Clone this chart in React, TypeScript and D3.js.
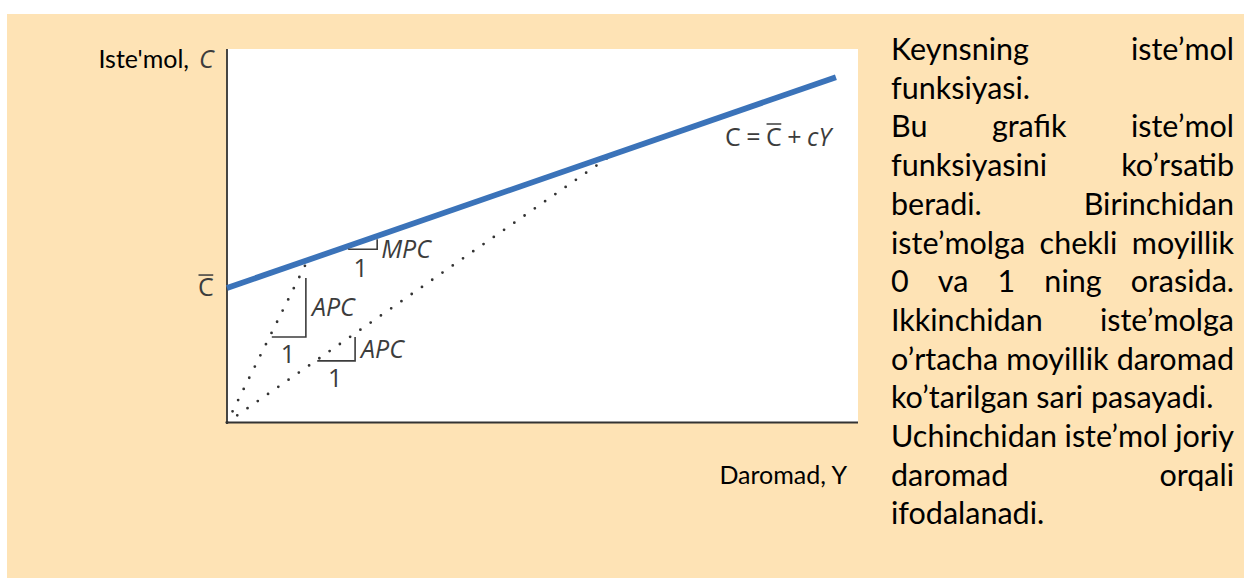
import React from 'react';
import * as d3 from 'd3';

// ---------- data ----------
const AUTONOMOUS_C = 36;        // C̄ (intercept)
const MPC_VALUE = 0.585;        // slope c
const INCOME_MAX = 100;
const CONS_MAX = 100;
const LINE_END_INCOME = 96.5;
const RAY_INCOMES = [12.8, 61];  // dotted rays from origin to the consumption line
const APC_TRIANGLES = [
  { y0: 7.1, run: 5.4, c0: 22.9, rise: 15.8 },
  { y0: 14.3, run: 6.0, c0: 16.5, rise: 6.4 },
];
const MPC_TRIANGLE = { y0: 19.2, run: 4.6, c0: 46.4 };

const Y_AXIS_LABEL = "Iste'mol,";
const Y_AXIS_SYMBOL = 'C';
const X_AXIS_LABEL = 'Daromad, Y';
const MPC_LABEL = 'MPC';
const APC_LABEL = 'APC';
const UNIT_LABEL = '1';

const PARAGRAPH_LINES = [
  'Keynsning iste’mol',
  'funksiyasi.',
  'Bu grafik iste’mol',
  'funksiyasini ko’rsatib',
  'beradi. Birinchidan',
  'iste’molga chekli moyillik',
  '0 va 1 ning orasida.',
  'Ikkinchidan iste’molga',
  'o’rtacha moyillik daromad',
  'ko’tarilgan sari pasayadi.',
  'Uchinchidan iste’mol joriy',
  'daromad orqali',
  'ifodalanadi.',
];
const PARAGRAPH_JUSTIFY = [true, false, true, true, true, true, true, true, true, false, true, true, false];

// ---------- helpers ----------
let _ctx: CanvasRenderingContext2D | null = null;
function textWidth(s: string, font: string): number {
  if (!_ctx) _ctx = document.createElement('canvas').getContext('2d');
  if (!_ctx) return s.length * 10;
  _ctx.font = font;
  return _ctx.measureText(s).width;
}

const W = 1244;
const H = 578;
const PLOT = { left: 227, right: 858, top: 49, bottom: 422.5 };
const CHART_FONT = "'Open Sans'";
const CHART_SIZE = 25;
const TEXT_FONT = 'Lato';
const PARA_SIZE = 30.5;
const LABEL_SIZE = 25;
const INK = '#3c3c3c';

export default function App() {
  const x = d3.scaleLinear().domain([0, INCOME_MAX]).range([PLOT.left, PLOT.right]);
  const y = d3.scaleLinear().domain([0, CONS_MAX]).range([PLOT.bottom, PLOT.top]);
  const cons = (inc: number) => AUTONOMOUS_C + MPC_VALUE * inc;

  const linePath = d3.line<number>().x((d) => x(d)).y((d) => y(cons(d)))([0, LINE_END_INCOME]) || '';
  const rays = RAY_INCOMES.map((inc) =>
    d3.line<[number, number]>().x((d) => x(d[0])).y((d) => y(d[1]))([[0, 0], [inc, cons(inc)]]) || ''
  );

  // paragraph layout
  const paraFont = `${PARA_SIZE}px ${TEXT_FONT}`;
  const paraLeft = 891;
  const paraRight = 1234;
  const paraTop = 60;
  const paraPitch = 38.7;
  const spaceW = textWidth(' ', paraFont);
  const paraWords = PARAGRAPH_LINES.map((line, i) => {
    const words = line.split(' ');
    const widths = words.map((w) => textWidth(w, paraFont));
    const total = widths.reduce((a, b) => a + b, 0);
    const gap = PARAGRAPH_JUSTIFY[i] && words.length > 1 ? (paraRight - paraLeft - total) / (words.length - 1) : spaceW;
    let cx = paraLeft;
    return words.map((w, j) => {
      const item = { w, x: cx };
      cx += widths[j] + gap;
      return item;
    });
  });

  // equation layout
  const eqFont = `${CHART_SIZE}px ${CHART_FONT}`;
  const eqItFont = `italic ${CHART_SIZE}px ${CHART_FONT}`;
  const eqX = 725;
  const eqY = 146;
  const eqGap = 5.5;
  const eqParts = [
    { t: 'C', it: false, bar: false, gap: eqGap },
    { t: '=', it: false, bar: false, gap: eqGap },
    { t: 'C', it: false, bar: true, gap: eqGap },
    { t: '+', it: false, bar: false, gap: eqGap },
    { t: 'c', it: true, bar: false, gap: 0 },
    { t: 'Y', it: true, bar: false, gap: 0 },
  ];
  let ex = eqX;
  const eqLaid = eqParts.map((p) => {
    const w = textWidth(p.t, p.it ? eqItFont : eqFont);
    const item = { ...p, x: ex, w };
    ex += w + p.gap;
    return item;
  });

  const cW = textWidth('C', eqFont);

  const legStroke = { stroke: INK, strokeWidth: 1.6, fill: 'none' };

  const mpcX0 = x(MPC_TRIANGLE.y0);
  const mpcX1 = x(MPC_TRIANGLE.y0 + MPC_TRIANGLE.run);
  const mpcYb = y(MPC_TRIANGLE.c0);
  const mpcYt = y(MPC_TRIANGLE.c0 + MPC_VALUE * MPC_TRIANGLE.run);

  return (
    <div style={{ position: 'absolute', left: 0, top: 0 }}>
      <svg width={W} height={H} viewBox={`0 0 ${W} ${H}`} style={{ display: 'block' }}>
        <rect x={0} y={0} width={W} height={H} fill="#ffffff" />
        <rect x={7} y={14} width={W - 7} height={H - 14} fill="#FEE3B5" />
        <rect x={PLOT.left} y={PLOT.top} width={PLOT.right - PLOT.left} height={PLOT.bottom - PLOT.top} fill="#ffffff" />

        {/* axes */}
        <line x1={PLOT.left} x2={PLOT.left} y1={PLOT.top} y2={PLOT.bottom} stroke="#333" strokeWidth={1.8} />
        <line x1={PLOT.left - 0.9} x2={PLOT.right} y1={PLOT.bottom} y2={PLOT.bottom} stroke="#333" strokeWidth={1.8} />

        {/* dotted rays */}
        {rays.map((d, i) => (
          <path key={i} d={d} fill="none" stroke="#333" strokeWidth={2.8} strokeLinecap="round" strokeDasharray="0 12.5" />
        ))}

        {/* consumption function */}
        <path d={linePath} fill="none" stroke="#3B73B9" strokeWidth={5.8} />

        {/* MPC triangle */}
        <polyline points={`${mpcX0},${mpcYb} ${mpcX1},${mpcYb} ${mpcX1},${mpcYt}`} {...legStroke} />
        <text x={mpcX1 + 4} y={mpcYb + 9} fontFamily={CHART_FONT} fontStyle="italic" fontSize={CHART_SIZE} fill={INK}>{MPC_LABEL}</text>
        <text x={(mpcX0 + mpcX1) / 2 - 2} y={mpcYb + 28} textAnchor="middle" fontFamily={CHART_FONT} fontSize={CHART_SIZE} fill={INK}>{UNIT_LABEL}</text>

        {/* APC triangles */}
        {APC_TRIANGLES.map((t, i) => {
          const x0 = x(t.y0);
          const x1 = x(t.y0 + t.run);
          const yb = y(t.c0);
          const yt = y(t.c0 + t.rise);
          return (
            <g key={i}>
              <polyline points={`${x0},${yb} ${x1},${yb} ${x1},${yt}`} {...legStroke} />
              <text x={x1 + 6} y={(yb + yt) / 2 + 9} fontFamily={CHART_FONT} fontStyle="italic" fontSize={CHART_SIZE} fill={INK}>{APC_LABEL}</text>
              <text x={(x0 + x1) / 2 - 1} y={yb + 26} textAnchor="middle" fontFamily={CHART_FONT} fontSize={CHART_SIZE} fill={INK}>{UNIT_LABEL}</text>
            </g>
          );
        })}

        {/* C-bar on y axis */}
        <text x={198} y={y(AUTONOMOUS_C) + 8} fontFamily={CHART_FONT} fontSize={CHART_SIZE} fill={INK}>C</text>
        <line x1={198.5} x2={198 + cW - 0.5} y1={y(AUTONOMOUS_C) - 13} y2={y(AUTONOMOUS_C) - 13} stroke={INK} strokeWidth={1.5} />

        {/* equation */}
        <text y={eqY} fontFamily={CHART_FONT} fontSize={CHART_SIZE} fill={INK}>
          {eqLaid.map((p, i) => (
            <tspan key={i} x={p.x} fontStyle={p.it ? 'italic' : 'normal'}>{p.t}</tspan>
          ))}
        </text>
        {eqLaid.filter((p) => p.bar).map((p, i) => (
          <line key={i} x1={p.x + 0.5} x2={p.x + p.w - 0.5} y1={eqY - 22} y2={eqY - 22} stroke={INK} strokeWidth={1.5} />
        ))}

        {/* axis labels */}
        <text x={189} y={68} textAnchor="end" fontFamily={TEXT_FONT} fontSize={LABEL_SIZE} fill="#000">{Y_AXIS_LABEL}</text>
        <text x={199} y={68} fontFamily={CHART_FONT} fontStyle="italic" fontSize={CHART_SIZE} fill={INK}>{Y_AXIS_SYMBOL}</text>
        <text x={847} y={484} textAnchor="end" fontFamily={TEXT_FONT} fontSize={LABEL_SIZE} fill="#000">{X_AXIS_LABEL}</text>

        {/* paragraph */}
        {paraWords.map((words, i) => (
          <text key={i} y={paraTop + i * paraPitch} fontFamily={TEXT_FONT} fontSize={PARA_SIZE} fill="#000">
            {words.map((wd, j) => (
              <tspan key={j} x={wd.x}>{wd.w}</tspan>
            ))}
          </text>
        ))}
      </svg>
    </div>
  );
}
